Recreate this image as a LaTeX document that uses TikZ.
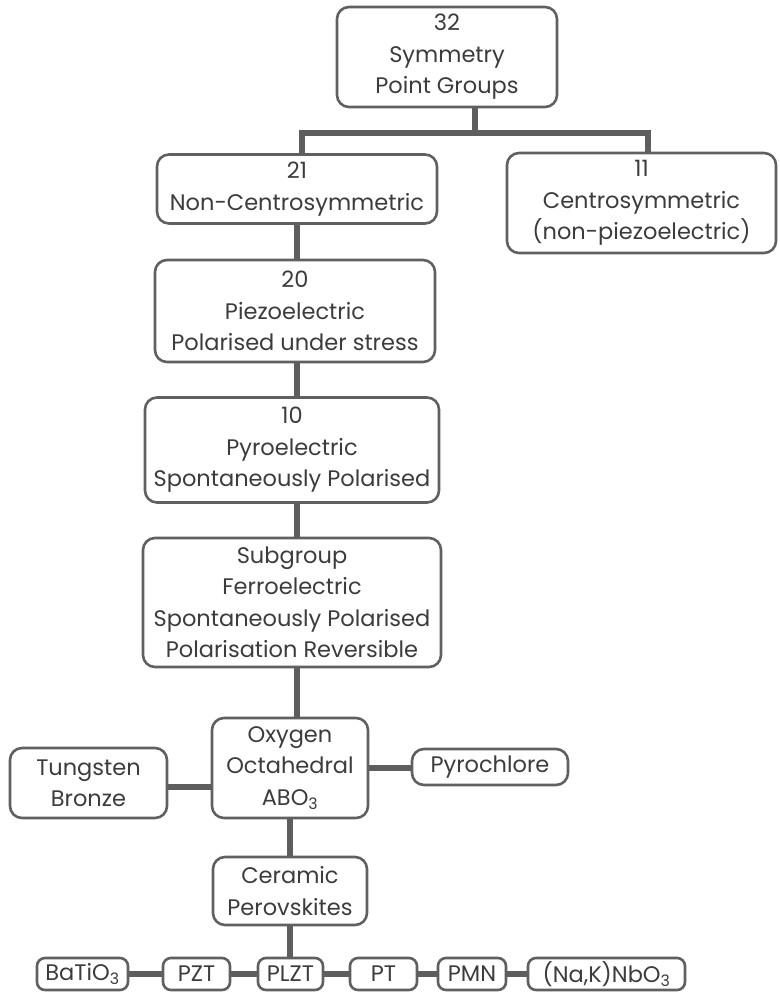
\documentclass[tikz,border=0pt]{standalone}
\usepackage{fontspec}
\setmainfont{Poppins}
\usetikzlibrary{backgrounds}
\definecolor{boxgray}{HTML}{606060}
\definecolor{linegray}{HTML}{5E5E5E}
\definecolor{txtgray}{HTML}{3C3C3C}
\tikzset{
  box/.style={draw=boxgray, line width=2.6pt, rounded corners=12pt, fill=white,
    align=center, text=txtgray, inner sep=0pt,
    font=\fontsize{22.5}{31.5}\selectfont},
  conn/.style={draw=linegray, line width=5.5pt}
}
\begin{document}
\begin{tikzpicture}[x=1pt,y=-1pt]
\useasboundingbox (0,0) rectangle (779,993);
\node[box, minimum width=220pt, minimum height=100pt] (n32) at (447,57) {32\\Symmetry\\Point Groups};
\node[box, minimum width=280pt, minimum height=69pt] (n21) at (297,189) {21\\Non-Centrosymmetric};
\node[box, minimum width=269pt, minimum height=100pt] (n11) at (641.5,203) {11\\Centrosymmetric\\(non-piezoelectric)};
\node[box, minimum width=280pt, minimum height=102pt] (n20) at (295,311) {20\\Piezoelectric\\Polarised under stress};
\node[box, minimum width=294pt, minimum height=105pt] (n10) at (292,450) {10\\Pyroelectric\\Spontaneously Polarised};
\node[box, minimum width=298pt, minimum height=129pt] (nsub) at (292,602.5) {Subgroup\\Ferroelectric\\Spontaneously Polarised\\Polarisation Reversible};
\node[box, minimum width=156pt, minimum height=100pt] (nox) at (290,768) {Oxygen\\Octahedral\\ABO\textsubscript{3}};
\node[box, minimum width=157pt, minimum height=70pt] (ntung) at (88.5,783) {Tungsten\\Bronze};
\node[box, minimum width=156pt, minimum height=36pt] (npyro) at (490,767) {Pyrochlore};
\node[box, minimum width=154pt, minimum height=68pt] (ncer) at (290,891) {Ceramic\\Perovskites};
\node[box, minimum width=91pt, minimum height=32pt, rounded corners=8pt] (nbat) at (82.5,974) {BaTiO\textsubscript{3}};
\node[box, minimum width=67pt, minimum height=32pt, rounded corners=8pt] (npzt) at (196.5,974) {PZT};
\node[box, minimum width=65pt, minimum height=32pt, rounded corners=8pt] (nplzt) at (290.5,974) {PLZT};
\node[box, minimum width=67pt, minimum height=32pt, rounded corners=8pt] (npt) at (383.5,974) {PT};
\node[box, minimum width=68pt, minimum height=32pt, rounded corners=8pt] (npmn) at (472,974) {PMN};
\node[box, minimum width=157pt, minimum height=32pt, rounded corners=8pt] (nnak) at (606.5,974) {(Na,K)NbO\textsubscript{3}};
\coordinate (jm) at (475,133);
\coordinate (jl) at (302,133);
\coordinate (jr) at (648,133);
\coordinate (ca) at (297,0);
\coordinate (cb) at (290,0);
\coordinate (rt) at (0,787);
\coordinate (rp) at (0,768);
\begin{scope}[on background layer]
\fill[white] (0,0) rectangle (779,993);
\draw[conn] (n32.south -| jm) -- (jm);
\draw[conn, line join=miter] (jl |- n21.north) -- (jl) -- (jr) -- (jr |- n11.north);
\draw[conn] (n21.south -| ca) -- (n20.north -| ca);
\draw[conn] (n20.south -| ca) -- (n10.north -| ca);
\draw[conn] (n10.south -| ca) -- (nsub.north -| ca);
\draw[conn] (nsub.south -| ca) -- (nox.north -| ca);
\draw[conn] (nox.south -| cb) -- (ncer.north -| cb);
\draw[conn] (ncer.south -| cb) -- (nplzt.north -| cb);
\draw[conn] (ntung.east |- rt) -- (nox.west |- rt);
\draw[conn] (nox.east |- rp) -- (npyro.west |- rp);
\draw[conn] (nbat) -- (npzt);
\draw[conn] (npzt) -- (nplzt);
\draw[conn] (nplzt) -- (npt);
\draw[conn] (npt) -- (npmn);
\draw[conn] (npmn) -- (nnak);
\end{scope}
\end{tikzpicture}
\end{document}
